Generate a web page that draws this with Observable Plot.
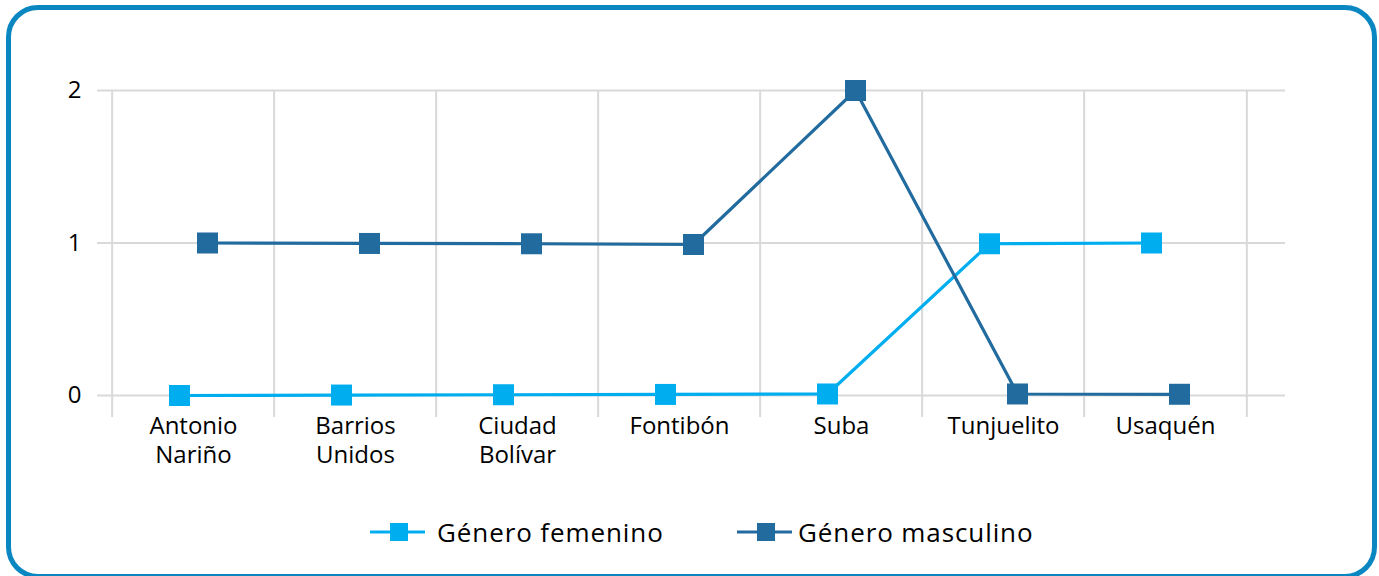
<!DOCTYPE html>
<html><head><meta charset="utf-8">
<script src="https://cdn.jsdelivr.net/npm/d3@7"></script>
<script src="https://cdn.jsdelivr.net/npm/@observablehq/plot@0.6"></script>
<style>
html,body{margin:0;padding:0;background:#fff;width:1379px;height:576px;overflow:hidden;font-family:"Open Sans",sans-serif;}
#wrap{position:relative;width:1379px;height:576px;}
#frame{position:absolute;left:6px;top:5px;width:1371px;height:574px;box-sizing:border-box;border:5px solid #0a86c1;border-radius:32px;}
#chart{position:absolute;left:0;top:0;}
.leg{position:absolute;top:517px;height:30px;display:flex;align-items:center;font-size:26px;letter-spacing:0.9px;color:#000;white-space:nowrap;}
.leg svg{display:block;}
</style></head><body>
<div id="wrap"><div id="frame"></div><div id="chart"></div><div id="legend"></div></div>
<script>
const categories = ["Antonio Nariño","Barrios Unidos","Ciudad Bolívar","Fontibón","Suba","Tunjuelito","Usaquén"];
const tickLabels = ["Antonio\nNariño","Barrios\nUnidos","Ciudad\nBolívar","Fontibón","Suba","Tunjuelito","Usaquén"];
const femenino = [0, 0.003, 0.005, 0.007, 0.01, 0.995, 1];
const masculino = [1, 0.997, 0.995, 0.99, 2, 0.01, 0.008];
const seriesNames = ["Género femenino","Género masculino"];
const yTicks = [0, 1, 2];
const colors = ["#00aeef", "#226b9f"];

const W = 1379, H = 500, mL = 109, mR = 131, mT = 90, mB = 105;
const bw = (W - mL - mR) / categories.length;
const offsets = [-14, 14];
const seriesValues = [femenino, masculino];

const rows = [];
seriesValues.forEach((vals, s) => vals.forEach((v, i) => rows.push({cat: categories[i], value: v, series: seriesNames[s]})));

const grid = "#d9d9d9";
const marks = [
  Plot.ruleY(yTicks, {stroke: grid, strokeWidth: 2, insetLeft: -12, insetRight: -37}),
  Plot.ruleX(categories, {x: d => d, dx: -bw / 2, stroke: grid, strokeWidth: 2, insetBottom: -22}),
  Plot.ruleX(categories.slice(-1), {x: d => d, dx: bw / 2, stroke: grid, strokeWidth: 2, insetBottom: -22}),
  Plot.axisY({ticks: yTicks, tickSize: 0, tickPadding: 28, fontSize: 24, label: null, tickFormat: d => String(d)}),
  Plot.axisX({tickSize: 0, tickPadding: 18, fontSize: 24, label: null, lineHeight: 1.2,
    tickFormat: d => tickLabels[categories.indexOf(d)]})
];
seriesNames.forEach((name, s) => {
  const d = rows.filter(r => r.series === name);
  marks.push(Plot.line(d, {x: "cat", y: "value", stroke: colors[s], strokeWidth: 3.2, dx: offsets[s]}));
  marks.push(Plot.dot(d, {x: "cat", y: "value", symbol: "square", r: 11.85, fill: colors[s], stroke: "none", dx: offsets[s]}));
});

const chart = Plot.plot({
  width: W, height: H,
  marginTop: mT, marginBottom: mB, marginLeft: mL, marginRight: mR,
  x: {type: "band", domain: categories, padding: 0},
  y: {domain: [0, 2]},
  style: {fontFamily: "'Open Sans', sans-serif", fontSize: "24px", color: "#000", background: "transparent"},
  marks
});
document.getElementById("chart").appendChild(chart);

const legendPos = [{left: 370, gap: 12}, {left: 737, gap: 6}];
const legend = document.getElementById("legend");
seriesNames.forEach((name, s) => {
  const item = document.createElement("div");
  item.className = "leg";
  item.style.left = legendPos[s].left + "px";
  item.innerHTML = `<svg width="55" height="20"><line x1="0" x2="55" y1="10" y2="10" stroke="${colors[s]}" stroke-width="3.2"/><rect x="20" y="1" width="18" height="18" fill="${colors[s]}"/></svg><span style="margin-left:${legendPos[s].gap}px">${name}</span>`;
  legend.appendChild(item);
});
</script>
</body></html>
